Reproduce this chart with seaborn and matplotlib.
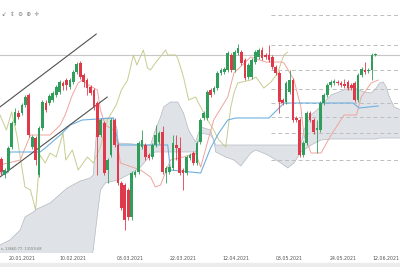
import matplotlib
matplotlib.use("Agg")
import matplotlib.pyplot as plt
from matplotlib.patches import Rectangle
import numpy as np
import seaborn as sns

# ---------------- data ----------------
opens = [12910, 12750, 12800, 13030, 13270, 13370, 13370, 13450, 13550, 13030,
         13120, 12750, 13220, 13470, 13470, 13500, 13550, 13580, 13670, 13700,
         13630, 13680, 13780, 13870, 13750, 13700, 13630, 13600, 13470, 13150,
         13270, 12800, 12950, 13300, 13050, 12670, 12650, 12600, 12330, 12750,
         12780, 13030, 13050, 12950, 12930, 13050, 13080, 13180, 12770, 12780,
         12820, 13050, 13020, 12800, 12770, 12920, 12970, 12870, 13080, 13320,
         13320, 13600, 13580, 13620, 13770, 13780, 13800, 13950, 13800, 13970,
         13980, 13900, 13730, 13730, 13880, 13930, 14000, 13950, 13950, 13930,
         13830, 13770, 13500, 13480, 13580, 13700, 13320, 13300, 12950, 13070,
         13370, 13300, 13200, 13200, 13470, 13550, 13650, 13670, 13680, 13670,
         13660, 13680, 13650, 13670, 13500, 13750, 13800, 13790, 13800, 13950]
closes = [12780, 12800, 13020, 13270, 13380, 13330, 13450, 13530, 13150, 13130,
          12900, 13220, 13480, 13400, 13540, 13570, 13630, 13680, 13640, 13650,
          13700, 13780, 13860, 13730, 13680, 13620, 13570, 13430, 13130, 13300,
          12770, 12900, 13300, 13050, 12670, 12420, 12300, 12330, 12770, 12780,
          13070, 13100, 12930, 12920, 13050, 13150, 13170, 12780, 12820, 12830,
          13070, 13020, 12770, 12770, 12930, 12950, 12870, 13070, 13300, 13370,
          13580, 13550, 13620, 13770, 13800, 13810, 13970, 13800, 13980, 14020,
          13870, 13720, 13850, 13900, 13980, 14000, 13920, 13930, 13900, 13830,
          13770, 13480, 13470, 13670, 13700, 13300, 13300, 12950, 13070, 13370,
          13300, 13180, 13220, 13470, 13550, 13650, 13680, 13690, 13670, 13650,
          13640, 13620, 13620, 13500, 13750, 13810, 13780, 13800, 13950, 13960]
highs = [12930, 12820, 13040, 13290, 13420, 13400, 13470, 13550, 13570, 13150,
         13140, 13240, 13500, 13500, 13560, 13590, 13650, 13700, 13690, 13720,
         13720, 13800, 13880, 13890, 13770, 13720, 13650, 13620, 13490, 13320,
         13290, 12920, 13320, 13320, 13070, 12690, 12670, 12620, 12790, 12800,
         13090, 13200, 13070, 12970, 13070, 13250, 13190, 13240, 12840, 12850,
         13150, 13150, 13130, 12820, 12950, 12970, 12990, 13090, 13320, 13390,
         13600, 13620, 13640, 13790, 13820, 13830, 13990, 13970, 14000, 14060,
         14000, 13920, 13870, 13920, 14000, 14020, 14030, 13970, 14050, 13950,
         13850, 13790, 13520, 13690, 13800, 13720, 13340, 13320, 13090, 13390,
         13390, 13320, 13300, 13490, 13570, 13670, 13700, 13710, 13700, 13690,
         13710, 13700, 13670, 13690, 13770, 13830, 13880, 13820, 13970, 13970]
lows = [12750, 12720, 12780, 13010, 13250, 13310, 13350, 13430, 13130, 13010,
        12850, 12730, 13200, 13380, 13450, 13480, 13530, 13560, 13600, 13600,
        13610, 13660, 13760, 13710, 13630, 13550, 13550, 13400, 12750, 13130,
        12750, 12670, 12930, 13030, 12650, 12400, 12200, 12300, 12300, 12730,
        12760, 13010, 12900, 12900, 12910, 13030, 13060, 12760, 12670, 12760,
        12800, 12900, 12750, 12600, 12750, 12900, 12850, 12850, 13060, 13300,
        13300, 13530, 13560, 13600, 13750, 13760, 13780, 13780, 13780, 13950,
        13850, 13700, 13710, 13710, 13860, 13910, 13900, 13910, 13880, 13810,
        13750, 13370, 13450, 13460, 13560, 13280, 13280, 12930, 12930, 13050,
        13280, 13160, 12970, 13180, 13450, 13530, 13630, 13650, 13650, 13630,
        13620, 13600, 13600, 13480, 13480, 13730, 13760, 13770, 13700, 13940]

tick_pos = [6.05, 21.0, 37.6, 53.1, 68.3, 83.8, 99.6, 112.0]
tick_labels = ["20.01.2021", "10.02.2021", "03.03.2021", "22.03.2021",
               "12.04.2021", "03.05.2021", "24.05.2021", "12.06.2021"]

kijun_idx = [-0.4, 1.7, 2.3, 2.5, 11.3, 12.8, 17.2, 20.1, 23.6, 32.7, 34.1, 48.5,
             49.3, 58.1, 61.0, 63.4, 66.0, 68.3, 78.0, 82.4, 102.5, 104.3, 109.9]
kijun_val = [12770, 12770, 12900, 12980, 12980, 13020, 13150, 13250, 13300, 13320,
             13050, 13050, 12800, 12770, 13020, 13170, 13300, 13320, 13320, 13470,
             13470, 13420, 13440]

tenkan_idx = [-0.4, 5.5, 8.5, 14.2, 17.2, 18.6, 20.7, 22.4, 23.6, 25.4, 28.0, 28.9,
              30.3, 32.7, 33.8, 34.7, 40.6, 43.5, 44.9, 46.4, 49.3, 53.1, 56.6, 58.1,
              61.9, 66.0, 67.8, 72.7, 77.1, 81.5, 82.4, 85.3, 87.3, 88.2, 90.3, 93.2,
              96.1, 99.9, 103.5, 104.9, 107.8, 109.9]
tenkan_val = [12850, 12900, 13150, 13150, 13250, 13350, 13550, 13670, 13700, 13650,
              13600, 13400, 13250, 13200, 13070, 12870, 12800, 12730, 12630, 12650,
              12900, 12930, 12970, 12830, 13300, 13530, 13770, 13930, 13880, 13880,
              13870, 13700, 13430, 13150, 12970, 12970, 13150, 13350, 13350, 13530,
              13670, 13700]

chikou_idx = [-0.4, 1.5, 3.0, 4.5, 6.9, 8.5, 10.0, 11.3, 12.8, 14.2, 16.0, 18.0,
              18.8, 20.7, 22.4, 25.1, 26.8, 28.9, 30.9, 33.5, 35.0, 36.8, 38.5, 39.5,
              41.4, 42.6, 43.5, 44.9, 47.9, 48.5, 50.8, 51.4, 53.1, 54.6, 56.6, 58.1,
              60.1, 61.9, 63.4, 65.4, 66.9, 67.8, 68.9, 72.7, 74.2, 76.5, 78.6, 80.6,
              81.5, 82.4, 83.5]
chikou_val = [13350, 13200, 13380, 13150, 12630, 12600, 12400, 12950, 12870, 12970,
              12930, 13170, 12900, 13000, 12800, 12930, 12870, 13030, 13300, 13450,
              13600, 13700, 13950, 13850, 14000, 13820, 13800, 13870, 14000, 13950,
              13950, 13920, 13730, 13500, 13530, 13430, 13300, 13200, 13100, 13030,
              13430, 13570, 13670, 13700, 13730, 13620, 13680, 13770, 13870, 13950,
              13980]

cloud_idx = [-0.4, 2.5, 5.5, 6.9, 9.3, 10.4, 14.2, 17.2, 19.2, 23.0, 25.9, 26.8,
             28.0, 28.9, 30.3, 32.7, 33.8, 34.1, 38.5, 40.6, 43.5, 44.9, 46.4, 47.3,
             49.3, 51.4, 53.1, 54.6, 56.6, 58.1, 61.0, 61.9, 62.5, 65.4, 67.8, 69.8,
             72.7, 74.2, 77.7, 81.5, 83.5, 85.3, 87.3, 88.2, 90.3, 92.6, 93.2, 96.1,
             99.9, 102.0, 105.8, 107.8, 109.3, 110.2, 111.3, 112.2, 113.1, 114.5, 116.6]
cloud_top = [12050, 12100, 12200, 12330, 12380, 12410, 12470, 12560, 12620, 12690,
             12720, 12750, 13300, 13310, 13320, 13320, 13200, 13070, 13060, 13050,
             13050, 13200, 13330, 13430, 13480, 13480, 13370, 13200, 13080, 13230,
             13200, 13100, 13050, 13050, 13050, 13050, 13050, 13050, 13050, 13050,
             13050, 13050, 13050, 13200, 13350, 13420, 13450, 13550, 13600, 13630,
             13580, 13570, 13620, 13670, 13680, 13630, 13530, 13430, 13400]
cloud_bot = [11900, 11900, 11900, 11900, 11900, 11900, 11900, 11900, 11900, 11900,
             11900, 12000, 12350, 12600, 12670, 12690, 12700, 12700, 12780, 12830,
             12950, 12980, 12980, 12980, 12980, 12980, 12980, 12980, 12980, 13170,
             13150, 13100, 12980, 12930, 12900, 12840, 12970, 13000, 12950, 12870,
             12820, 12870, 12980, 13000, 13050, 13090, 13100, 13110, 13110, 13110,
             13110, 13110, 13110, 13120, 13120, 13120, 13120, 13120, 13120]

fib_levels = [14350, 14050, 13800, 13610, 13470, 13330, 13170, 12900]
fib_start = 78.5
resistance = 13950
channel_upper_idx = [-0.4, 27.7]
channel_upper_val = [13430, 14160]
channel_lower_idx = [-0.4, 30.9]
channel_lower_val = [12730, 13530]

# ---------------- drawing ----------------
sns.set_theme(style="white")
plt.rcParams['font.family'] = ['DejaVu Sans']

fig = plt.figure(figsize=(4, 2.67), dpi=100)
fig.patch.set_facecolor("white")
ax = fig.add_axes([0, 14 / 267, 1, 253 / 267])
ax.set_facecolor("white")

GREEN = "#2f9e5a"
RED = "#e03a4a"

# cloud
ax.fill_between(cloud_idx, cloud_top, cloud_bot, color="#dfe3e8", lw=0, zorder=1)
sns.lineplot(x=cloud_idx, y=cloud_top, ax=ax, color="#b3b9c0", lw=0.5,
             estimator=None, sort=False, zorder=2)
sns.lineplot(x=cloud_idx, y=cloud_bot, ax=ax, color="#b3b9c0", lw=0.5,
             estimator=None, sort=False, zorder=2)

# reference lines
ax.axhline(resistance, color="#c6c6c6", lw=0.8, zorder=1.5)
ax.hlines(fib_levels, fib_start, 120, colors="#bdbdbd", lw=0.7,
          linestyles=(0, (4, 3)), zorder=1.5)

# ichimoku lines
sns.lineplot(x=chikou_idx, y=chikou_val, ax=ax, color="#c8cc90", lw=0.7,
             estimator=None, sort=False, zorder=3)
sns.lineplot(x=tenkan_idx, y=tenkan_val, ax=ax, color="#f0a49c", lw=0.7,
             estimator=None, sort=False, zorder=3)
sns.lineplot(x=kijun_idx, y=kijun_val, ax=ax, color="#6fb0e0", lw=0.8,
             estimator=None, sort=False, zorder=3)

# channel
sns.lineplot(x=channel_upper_idx, y=channel_upper_val, ax=ax, color="#505050",
             lw=0.8, estimator=None, sort=False, zorder=4)
sns.lineplot(x=channel_lower_idx, y=channel_lower_val, ax=ax, color="#505050",
             lw=0.8, estimator=None, sort=False, zorder=4)

# candles
o = np.array(opens, float)
c = np.array(closes, float)
h = np.array(highs, float)
l = np.array(lows, float)
idx = np.arange(len(o))
cols = [GREEN if cc >= oo else RED for oo, cc in zip(o, c)]
ax.vlines(idx, l, h, colors=cols, lw=0.6, zorder=5)
body_h = np.maximum(np.abs(c - o), 8)
ax.bar(idx, body_h, bottom=np.minimum(o, c), width=0.78, color=cols,
       lw=0, zorder=6)

ax.set_xlim(-0.38, 116.2)
ax.set_ylim(11970, 14500)
ax.set_xticks(tick_pos)
ax.set_xticklabels(tick_labels, fontsize=3.4, color="#555555")
ax.set_yticks([])
ax.tick_params(axis="x", length=0, pad=2)
for s in ax.spines.values():
    s.set_visible(False)
ax.set_xlabel("")
ax.set_ylabel("")

# chrome: toolbar, info text, scrollbar strip
fig.text(0.004, 1 - 14 / 267, "↙  ⇕  ⊖  ⊕  ✛", fontsize=4, color="#777777",
         va="center", ha="left")
fig.text(0.002, 1 - 249 / 267, "s, 13660.77, 13159.68", fontsize=2.6,
         color="#777777", va="center", ha="left")
fig.patches.append(Rectangle((0, 0), 1, 4 / 267, transform=fig.transFigure,
                             color="#ececec", zorder=0))

fig.savefig("out.png", dpi=100, facecolor="white")
